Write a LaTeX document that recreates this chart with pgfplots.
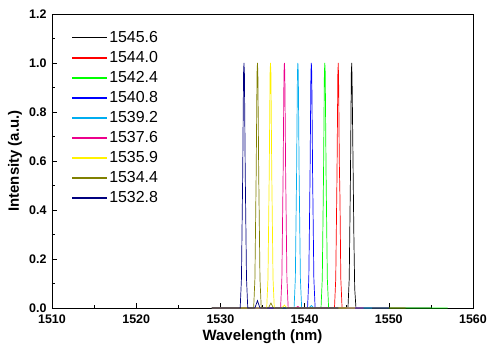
\documentclass[border=0pt]{standalone}
\usepackage{pgfplots}
\pgfplotsset{compat=1.18}
\usepackage{fontspec}
\setmainfont{Liberation Sans}
\definecolor{cgreen}{RGB}{0,255,0}
\definecolor{colive}{RGB}{128,128,0}
\definecolor{cnavy}{RGB}{0,0,128}
\begin{document}
\begin{tikzpicture}
\begin{axis}[
  name=ax,
  scale only axis,
  width=421bp, height=294bp,
  xmin=1510, xmax=1560, ymin=0, ymax=1.2,
  xtick={1510,1520,...,1560},
  minor xtick={1515,1525,...,1555},
  ytick={0,0.2,0.4,0.6,0.8,1.0,1.2},
  minor ytick={0.1,0.3,0.5,0.7,0.9,1.1},
  tick align=inside,
  xtick pos=bottom, ytick pos=left,
  major tick length=5bp, minor tick length=3bp,
  tick style={black, line width=0.6pt},
  axis line style={line width=0.8pt},
  /pgf/number format/assume math mode=true,
  yticklabel style={/pgf/number format/fixed, /pgf/number format/fixed zerofill, /pgf/number format/precision=1, xshift=-2bp},
  xticklabel style={/pgf/number format/set thousands separator={}, yshift=-3bp},
  ticklabel style={font=\fontsize{12.5}{14}\selectfont\bfseries},
  xlabel={Wavelength (nm)}, ylabel={Intensity (a.u.)},
  label style={font=\fontsize{15}{17}\selectfont\bfseries},
  xlabel style={at={(axis description cs:0.5,-0.097)}, anchor=center},
  ylabel style={at={(axis description cs:-0.088,0.5)}, anchor=center},
  legend style={draw=none, fill=none, at={(axis description cs:0.046,0.946)}, anchor=north west,
    font=\fontsize{16}{18}\selectfont, row sep=4.4bp, inner sep=0pt, nodes={inner sep=1.5bp}},
  legend cell align=left,
  legend image code/.code={\draw[#1, line width=1.2pt] (0bp,0bp) -- (35bp,0bp);},
  every axis plot/.append style={line width=0.7pt},
]
\addplot[black] coordinates {(1529,0) (1545.15,0) (1545.3,0.12) (1545.45,0.55) (1545.55,0.96) (1545.6,1.0) (1545.65,0.9) (1545.7,0.75) (1545.75,0.6) (1545.85,0.3) (1545.95,0.08) (1546.1,0) (1555,0)};
\addlegendentry{1545.6}
\addplot[red] coordinates {(1529,0) (1543.55,0) (1543.7,0.12) (1543.85,0.55) (1543.95,0.96) (1544.0,1.0) (1544.05,0.9) (1544.12,0.6) (1544.2,0.45) (1544.3,0.12) (1544.45,0) (1552,0)};
\addlegendentry{1544.0}
\addplot[cgreen] coordinates {(1529,0) (1541.95,0) (1542.1,0.12) (1542.25,0.55) (1542.35,0.96) (1542.4,1.0) (1542.45,0.96) (1542.55,0.55) (1542.7,0.12) (1542.85,0) (1557,0)};
\addlegendentry{1542.4}
\addplot[blue] coordinates {(1529,0) (1540.35,0) (1540.5,0.12) (1540.65,0.55) (1540.75,0.96) (1540.8,1.0) (1540.85,0.96) (1540.95,0.55) (1541.1,0.12) (1541.25,0) (1550,0)};
\addlegendentry{1540.8}
\addplot[cyan] coordinates {(1529,0) (1538.75,0) (1538.9,0.12) (1539.05,0.55) (1539.15,0.96) (1539.2,1.0) (1539.25,0.96) (1539.35,0.55) (1539.5,0.12) (1539.65,0) (1540.5,0) (1540.8,0.01) (1541.1,0) (1548,0)};
\addlegendentry{1539.2}
\addplot[magenta] coordinates {(1529,0) (1537.15,0) (1537.3,0.12) (1537.45,0.55) (1537.55,0.96) (1537.6,1.0) (1537.65,0.96) (1537.75,0.55) (1537.9,0.12) (1538.05,0) (1538.9,0) (1539.2,0.006) (1539.5,0) (1547,0)};
\addlegendentry{1537.6}
\addplot[yellow] coordinates {(1529,0) (1535.5,0) (1535.65,0.12) (1535.8,0.55) (1535.9,0.96) (1535.95,1.0) (1536.0,0.96) (1536.1,0.55) (1536.25,0.12) (1536.4,0) (1537.3,0) (1537.6,0.012) (1537.9,0) (1546,0)};
\addlegendentry{1535.9}
\addplot[colive] coordinates {(1529,0) (1533.95,0) (1534.1,0.12) (1534.25,0.55) (1534.35,0.96) (1534.4,1.0) (1534.45,0.96) (1534.55,0.55) (1534.7,0.12) (1534.85,0) (1535.7,0) (1536.0,0.02) (1536.3,0) (1545,0)};
\addlegendentry{1534.4}
\addplot[cnavy] coordinates {(1529,0) (1532.35,0) (1532.5,0.12) (1532.65,0.55) (1532.75,0.96) (1532.8,1.0) (1532.85,0.96) (1532.95,0.55) (1533.1,0.12) (1533.25,0) (1534.1,0) (1534.4,0.03) (1534.7,0) (1544,0)};
\addlegendentry{1532.8}
\end{axis}
\pgfresetboundingbox
\path ([xshift=-52bp,yshift=-40bp]ax.south west) rectangle ([xshift=17bp,yshift=14bp]ax.north east);
\end{tikzpicture}
\end{document}
